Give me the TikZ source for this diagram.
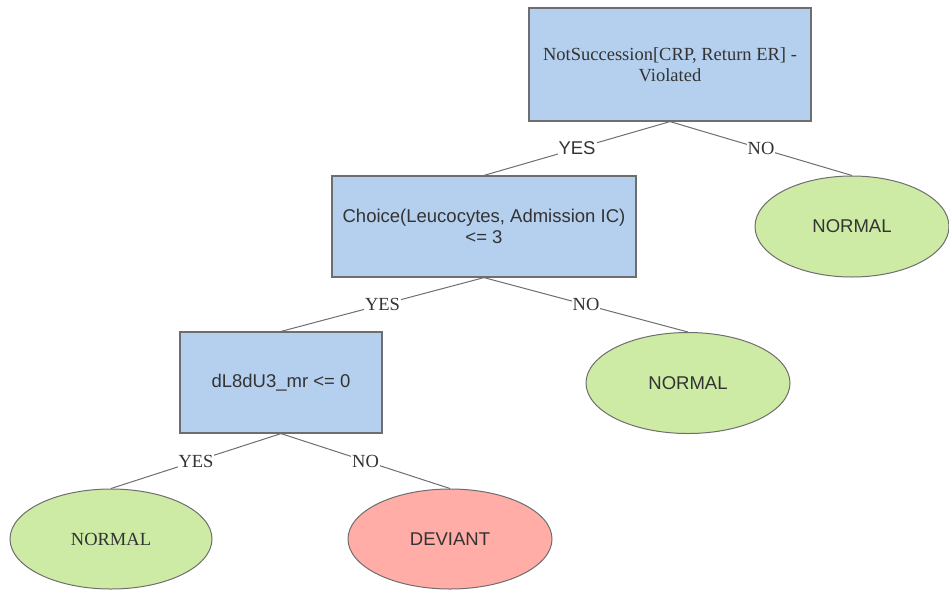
\documentclass[tikz,border=0pt]{standalone}
\usepackage{fontspec}
\setmainfont{Liberation Serif}
\setsansfont{Liberation Sans}
\usetikzlibrary{shapes.geometric}
\definecolor{boxblue}{RGB}{181,208,238}
\definecolor{leafgreen}{RGB}{205,235,165}
\definecolor{leafred}{RGB}{255,173,166}
\definecolor{txtgray}{RGB}{51,51,51}
\definecolor{edgegray}{RGB}{110,110,110}
\tikzset{test/.style = {draw=edgegray, fill=boxblue, line width=1.2pt, rectangle, align=center, text=txtgray, inner sep=0pt},
         leaf/.style = {draw=edgegray, line width=1pt, ellipse, text=txtgray, inner sep=0pt},
         branch/.style = {fill=white, text=txtgray, inner sep=1pt}}

\begin{document}
\begin{tikzpicture}[x=1pt, y=-1pt, font=\fontsize{18.5}{21.5}\selectfont]
    \useasboundingbox (0,0) rectangle (949,590);
    \node[test, minimum width=282, minimum height=113](root)at(670,64.5){NotSuccession[CRP, Return ER] -\\Violated};
    \node[test, minimum width=304, minimum height=101, font=\sffamily\fontsize{18.5}{21.5}\selectfont](choice)at(484,226.5){Choice(Leucocytes, Admission IC)\\<= 3};
    \node[test, minimum width=202, minimum height=101, font=\sffamily\fontsize{18.5}{21.5}\selectfont](dl)at(281,382.5){dL8dU3\_mr <= 0};

    \node[leaf, fill=leafgreen, minimum width=194, minimum height=101, font=\sffamily\fontsize{18.5}{21.5}\selectfont](normA)at(852,226.5){NORMAL};
    \node[leaf, fill=leafgreen, minimum width=204, minimum height=101, font=\sffamily\fontsize{18.5}{21.5}\selectfont](normB)at(688,383){NORMAL};
    \node[leaf, fill=leafgreen, minimum width=202, minimum height=100](normC)at(111,539){NORMAL};
    \node[leaf, fill=leafred, minimum width=204, minimum height=100, font=\sffamily\fontsize{18.5}{21.5}\selectfont](dev)at(450,539){DEVIANT};

    \draw[edgegray, line width=1pt](root.south)--(choice.north)node[midway, branch, font=\sffamily\fontsize{18.5}{21.5}\selectfont]{YES};
    \draw[edgegray, line width=1pt](root.south)--(normA.north)node[midway, branch]{NO};
    \draw[edgegray, line width=1pt](choice.south)--(dl.north)node[midway, branch]{YES};
    \draw[edgegray, line width=1pt](choice.south)--(normB.north)node[midway, branch]{NO};
    \draw[edgegray, line width=1pt](dl.south)--(normC.north)node[midway, branch]{YES};
    \draw[edgegray, line width=1pt](dl.south)--(dev.north)node[midway, branch]{NO};
\end{tikzpicture}
\end{document}
